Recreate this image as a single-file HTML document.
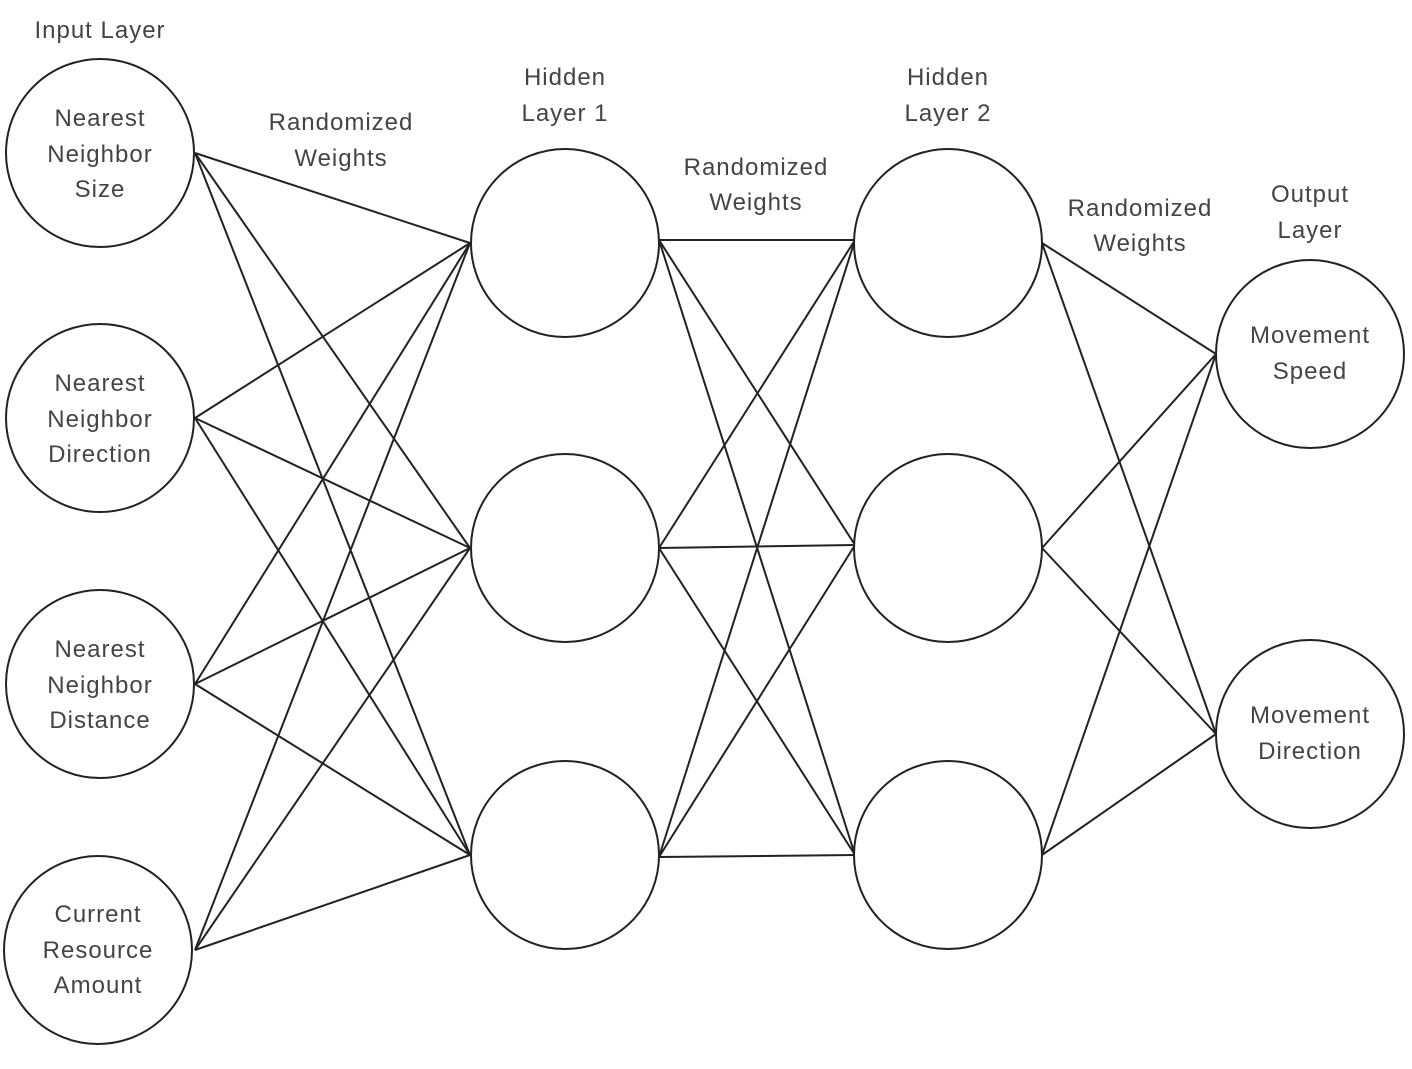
<!DOCTYPE html>
<html><head><style>
html,body{margin:0;padding:0;background:#fff;}
svg text{font-family:"Liberation Sans",sans-serif;font-size:24px;letter-spacing:1px;fill:#444;text-anchor:middle;}
</style></head><body>
<svg width="1412" height="1064" viewBox="0 0 1412 1064" xmlns="http://www.w3.org/2000/svg">
<g stroke="#222" stroke-width="2" fill="none">
<line x1="195" y1="153" x2="470" y2="243"/><line x1="195" y1="153" x2="470" y2="548"/><line x1="195" y1="153" x2="470" y2="855"/>
<line x1="195" y1="418" x2="470" y2="243"/><line x1="195" y1="418" x2="470" y2="548"/><line x1="195" y1="418" x2="470" y2="855"/>
<line x1="195" y1="684" x2="470" y2="243"/><line x1="195" y1="684" x2="470" y2="548"/><line x1="195" y1="684" x2="470" y2="855"/>
<line x1="195" y1="950" x2="470" y2="243"/><line x1="195" y1="950" x2="470" y2="548"/><line x1="195" y1="950" x2="470" y2="855"/>
<line x1="659" y1="240" x2="855" y2="240"/><line x1="659" y1="240" x2="855" y2="545"/><line x1="659" y1="240" x2="855" y2="855"/>
<line x1="659" y1="548" x2="855" y2="240"/><line x1="659" y1="548" x2="855" y2="545"/><line x1="659" y1="548" x2="855" y2="855"/>
<line x1="659" y1="857" x2="855" y2="240"/><line x1="659" y1="857" x2="855" y2="545"/><line x1="659" y1="857" x2="855" y2="855"/>
<line x1="1042" y1="243" x2="1216" y2="354"/><line x1="1042" y1="243" x2="1216" y2="734"/>
<line x1="1042" y1="548" x2="1216" y2="354"/><line x1="1042" y1="548" x2="1216" y2="734"/>
<line x1="1042" y1="855" x2="1216" y2="354"/><line x1="1042" y1="855" x2="1216" y2="734"/>
</g>
<g stroke="#222" stroke-width="2" fill="#fff">
<circle cx="100" cy="153" r="94"/><circle cx="100" cy="418" r="94"/><circle cx="100" cy="684" r="94"/><circle cx="98" cy="950" r="94"/>
<circle cx="565" cy="243" r="94"/><circle cx="565" cy="548" r="94"/><circle cx="565" cy="855" r="94"/>
<circle cx="948" cy="243" r="94"/><circle cx="948" cy="548" r="94"/><circle cx="948" cy="855" r="94"/>
<circle cx="1310" cy="354" r="94"/><circle cx="1310" cy="734" r="94"/>
</g>
<text x="100" y="38">Input Layer</text>
<text x="100" y="126">Nearest</text><text x="100" y="162">Neighbor</text><text x="100" y="197">Size</text>
<text x="100" y="391">Nearest</text><text x="100" y="427">Neighbor</text><text x="100" y="462">Direction</text>
<text x="100" y="657">Nearest</text><text x="100" y="693">Neighbor</text><text x="100" y="728">Distance</text>
<text x="98" y="922">Current</text><text x="98" y="958">Resource</text><text x="98" y="993">Amount</text>
<text x="341" y="130">Randomized</text><text x="341" y="166">Weights</text>
<text x="565" y="85">Hidden</text><text x="565" y="121">Layer 1</text>
<text x="756" y="175">Randomized</text><text x="756" y="210">Weights</text>
<text x="948" y="85">Hidden</text><text x="948" y="121">Layer 2</text>
<text x="1140" y="216">Randomized</text><text x="1140" y="251">Weights</text>
<text x="1310" y="202">Output</text><text x="1310" y="238">Layer</text>
<text x="1310" y="343">Movement</text><text x="1310" y="379">Speed</text>
<text x="1310" y="723">Movement</text><text x="1310" y="759">Direction</text>
</svg>
</body></html>
